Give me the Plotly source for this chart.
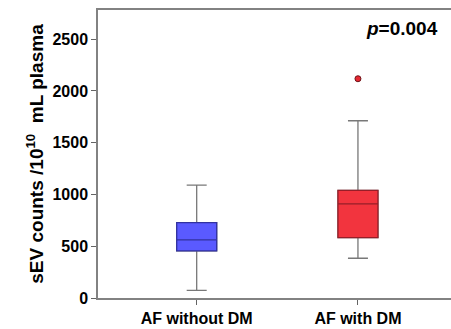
import plotly.graph_objects as go

categories = ["AF without DM", "AF with DM"]
q1 = [455, 584]
median = [561, 909]
q3 = [729, 1039]
lower = [74, 384]
upper = [1090, 1712]
outlier_cat = ["AF with DM"]
outlier_val = [2118]
y_ticks = [0, 500, 1000, 1500, 2000, 2500]
p_text = "<i>p</i>=0.004"

fills = ["rgb(90,90,255)", "rgb(242,52,62)"]
edges = ["rgb(50,50,160)", "rgb(150,30,40)"]
FONT = "Liberation Sans, Arial, sans-serif"

fig = go.Figure()
for i, c in enumerate(categories):
    # whiskers (gray)
    fig.add_trace(go.Box(
        x=[c], q1=[q1[i]], median=[median[i]], q3=[q3[i]],
        lowerfence=[lower[i]], upperfence=[upper[i]],
        width=0.248, whiskerwidth=0.5, fillcolor=fills[i],
        line=dict(color="rgb(120,120,120)", width=1.3),
        boxpoints=False, showlegend=False, hoverinfo="skip"))
    # box body with darker outline and median
    fig.add_trace(go.Box(
        x=[c], q1=[q1[i]], median=[median[i]], q3=[q3[i]],
        lowerfence=[q1[i]], upperfence=[q3[i]],
        width=0.248, whiskerwidth=0, fillcolor=fills[i],
        line=dict(color=edges[i], width=1.3),
        boxpoints=False, showlegend=False))

fig.add_trace(go.Scatter(
    x=outlier_cat, y=outlier_val, mode="markers",
    marker=dict(color="rgb(230,40,50)", size=6,
                line=dict(color="rgb(110,20,25)", width=1)),
    showlegend=False))

fig.add_annotation(
    x=0.86, y=0.935, xref="paper", yref="paper", xanchor="center", yanchor="middle",
    text=p_text, showarrow=False,
    font=dict(family=FONT, size=19, color="black", weight="bold"))

fig.update_layout(
    width=451, height=329,
    margin=dict(l=98, r=0, t=10, b=31),
    plot_bgcolor="white", paper_bgcolor="white",
    boxmode="overlay",
    xaxis=dict(
        type="category", range=[-0.612, 1.577],
        showline=True, linecolor="rgb(130,130,130)", linewidth=1.5,
        mirror=True, ticks="outside", ticklen=5, tickcolor="rgb(100,100,100)",
        tickfont=dict(family=FONT, size=16, color="black", weight="bold"),
        showgrid=False, zeroline=False, fixedrange=True),
    yaxis=dict(
        range=[0, 2782], tickvals=y_ticks,
        showline=True, linecolor="rgb(130,130,130)", linewidth=1.5,
        ticks="outside", ticklen=5, tickcolor="rgb(100,100,100)",
        tickfont=dict(family=FONT, size=16, color="black", weight="bold"),
        showgrid=False, zeroline=False,
        title=dict(text="sEV counts /10<sup>10</sup>  mL plasma",
                   font=dict(family=FONT, size=19, color="black", weight="bold"), standoff=4)),
)

fig.write_html("out.html")
